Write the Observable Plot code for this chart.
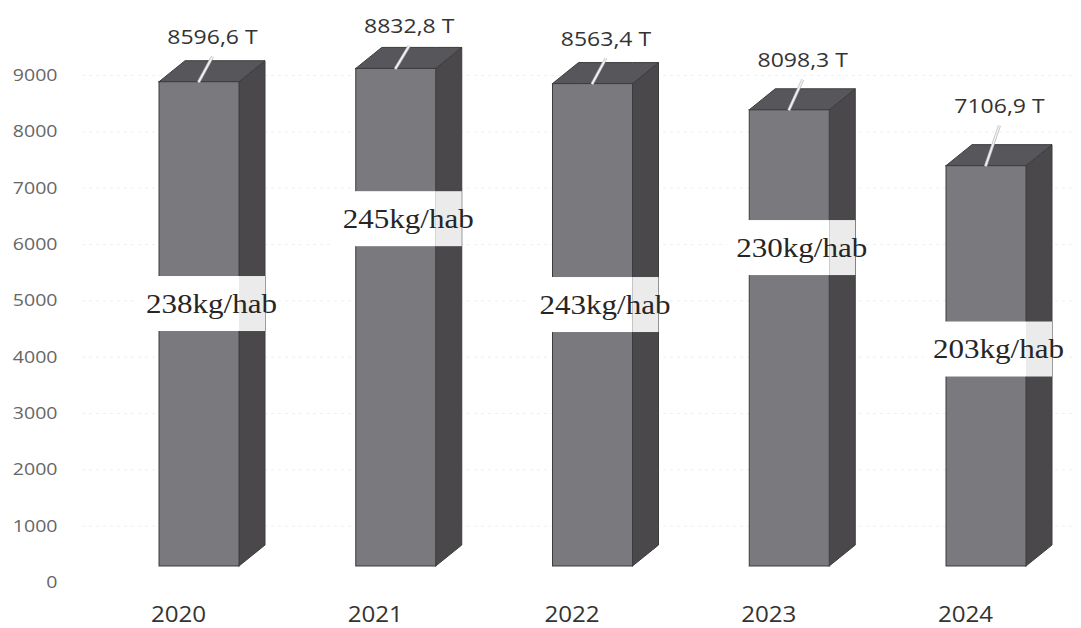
<!DOCTYPE html>
<html>
<head>
<meta charset="utf-8">
<script src="https://cdn.jsdelivr.net/npm/d3@7"></script>
<script src="https://cdn.jsdelivr.net/npm/@observablehq/plot@0.6"></script>
<style>
  html, body { margin: 0; padding: 0; background: #ffffff; }
  #chart svg { display: block; }
</style>
</head>
<body>
<div id="chart"></div>
<script>
// ---- data ----
const years = [2020, 2021, 2022, 2023, 2024];
const tonnes = [8596.6, 8832.8, 8563.4, 8098.3, 7106.9];
const perCapita = [238, 245, 243, 230, 203];
const yTicks = [0, 1000, 2000, 3000, 4000, 5000, 6000, 7000, 8000, 9000];

// ---- layout ----
const W = 1081, H = 628;
const mL = 199, mR = 95, mT = 75, mB = 46;
const ppy = (W - mL - mR) / (years[years.length - 1] - years[0]); // px per year
const ppu = (H - mT - mB) / 9000;                                  // px per tonne
const halfW = 40 / ppy;      // half front width (years)
const dX = 26 / ppy;         // 3D depth, horizontal
const dY = 21 / ppu;         // 3D depth, vertical (data units)
const frontShift = -16;      // front face offset from axis baseline (px)

const rows = years.map((year, i) => ({
  year, v: tonnes[i], kg: perCapita[i], i,
  label: tonnes[i].toFixed(1).replace(".", ",") + " T",
  kgLabel: perCapita[i] + "kg/hab",
  kgY: tonnes[i] * (i % 2 === 0 ? 0.542 : 0.698),
  // data-label anchor: above the bar, compressed a little (as placed in the source)
  labY: tonnes[i] * 0.82 + 2340
}));

const sideFaces = rows.flatMap(d => [
  {z: d.i, x: d.year + halfW, y1: 0, y2: d.v},
  {z: d.i, x: d.year + halfW + dX, y1: dY, y2: d.v + dY}
]);
const topFaces = rows.flatMap(d => {
  const xl = d.year - halfW, xr = d.year + halfW;
  return [
    {z: d.i, x: xl, y1: d.v, y2: d.v},
    {z: d.i, x: xl + dX, y1: d.v, y2: d.v + dY},
    {z: d.i, x: xr, y1: d.v, y2: d.v + dY},
    {z: d.i, x: xr + dX, y1: d.v + dY, y2: d.v + dY}
  ];
});

const boxH = 27.5 / ppu;
const sans = "Open Sans";
const serif = "Liberation Serif";
const outline = "#3c3c3e";

const chart = Plot.plot({
  width: W, height: H,
  marginLeft: mL, marginRight: mR, marginTop: mT, marginBottom: mB,
  x: {type: "linear", domain: [years[0], years[years.length - 1]], axis: null},
  y: {domain: [0, 9000], axis: null},
  style: {background: "#ffffff", overflow: "visible"},
  marks: [
    // faint gridlines
    Plot.ruleY(yTicks.slice(1), {
      x1: years[0] - (mL - 82) / ppy, x2: years[0] + (1075 - mL) / ppy,
      stroke: "#efefef", strokeDasharray: "3,4", strokeWidth: 1
    }),
    // y tick labels
    Plot.text(yTicks, {
      y: d => d, frameAnchor: "left", dx: -(mL - 57), textAnchor: "end",
      text: d => String(d), fontFamily: sans, fontSize: 17, fill: "#666666"
    }),
    // year labels
    Plot.text(rows, {
      x: d => d.year - 21 / ppy, y: d => 0, dy: 33,
      text: d => String(d.year), fontFamily: sans, fontSize: 21, fill: "#333333"
    }),
    // side faces
    Plot.areaY(sideFaces, {
      x: "x", y1: "y1", y2: "y2", z: "z", dy: frontShift,
      fill: "#4b484c", stroke: outline, strokeWidth: 1
    }),
    // top faces
    Plot.areaY(topFaces, {
      x: "x", y1: "y1", y2: "y2", z: "z", dy: frontShift,
      fill: "#57575b", stroke: outline, strokeWidth: 1
    }),
    // front faces
    Plot.rect(rows, {
      x1: d => d.year - halfW, x2: d => d.year + halfW, y1: d => 0, y2: "v",
      dy: frontShift, fill: "#7a7a7e", stroke: outline, strokeWidth: 1
    }),
    // leader lines
    Plot.link(rows, {
      x1: d => d.year + 13 / ppy, y1: d => d.labY - 19 / ppu,
      x2: d => d.year - 1 / ppy, y2: "v", dy: frontShift,
      stroke: "#c4c4c4", strokeWidth: 3
    }),
    Plot.link(rows, {
      x1: d => d.year + 13 / ppy, y1: d => d.labY - 19 / ppu,
      x2: d => d.year - 1 / ppy, y2: "v", dy: frontShift,
      stroke: "#f6f6f6", strokeWidth: 1.3
    }),
    // value labels
    Plot.text(rows, {
      x: d => d.year + 13 / ppy, y: "labY", dy: frontShift,
      text: "label", fontFamily: sans, fontSize: 20, fill: "#333333"
    }),
    // white boxes for kg/hab labels
    Plot.rect(rows, {
      x1: d => d.year - halfW - 22 / ppy, x2: d => d.year + halfW,
      y1: d => d.kgY - boxH, y2: d => d.kgY + boxH, dy: frontShift,
      fill: "#ffffff"
    }),
    Plot.rect(rows, {
      x1: d => d.year + halfW, x2: d => d.year + halfW + dX,
      y1: d => d.kgY - boxH, y2: d => d.kgY + boxH, dy: frontShift,
      fill: "#ebebeb"
    }),
    Plot.text(rows, {
      x: d => d.year + 12 / ppy, y: "kgY", dy: frontShift,
      text: "kgLabel", fontFamily: serif, fontSize: 27, fill: "#262626"
    })
  ]
});

// widen glyphs slightly (reference text is horizontally stretched)
chart.querySelectorAll("text").forEach(t => {
  const tr = t.getAttribute("transform") || "";
  t.setAttribute("transform", `${tr} scale(1.15,1)`);
});

document.getElementById("chart").appendChild(chart);
</script>
</body>
</html>
